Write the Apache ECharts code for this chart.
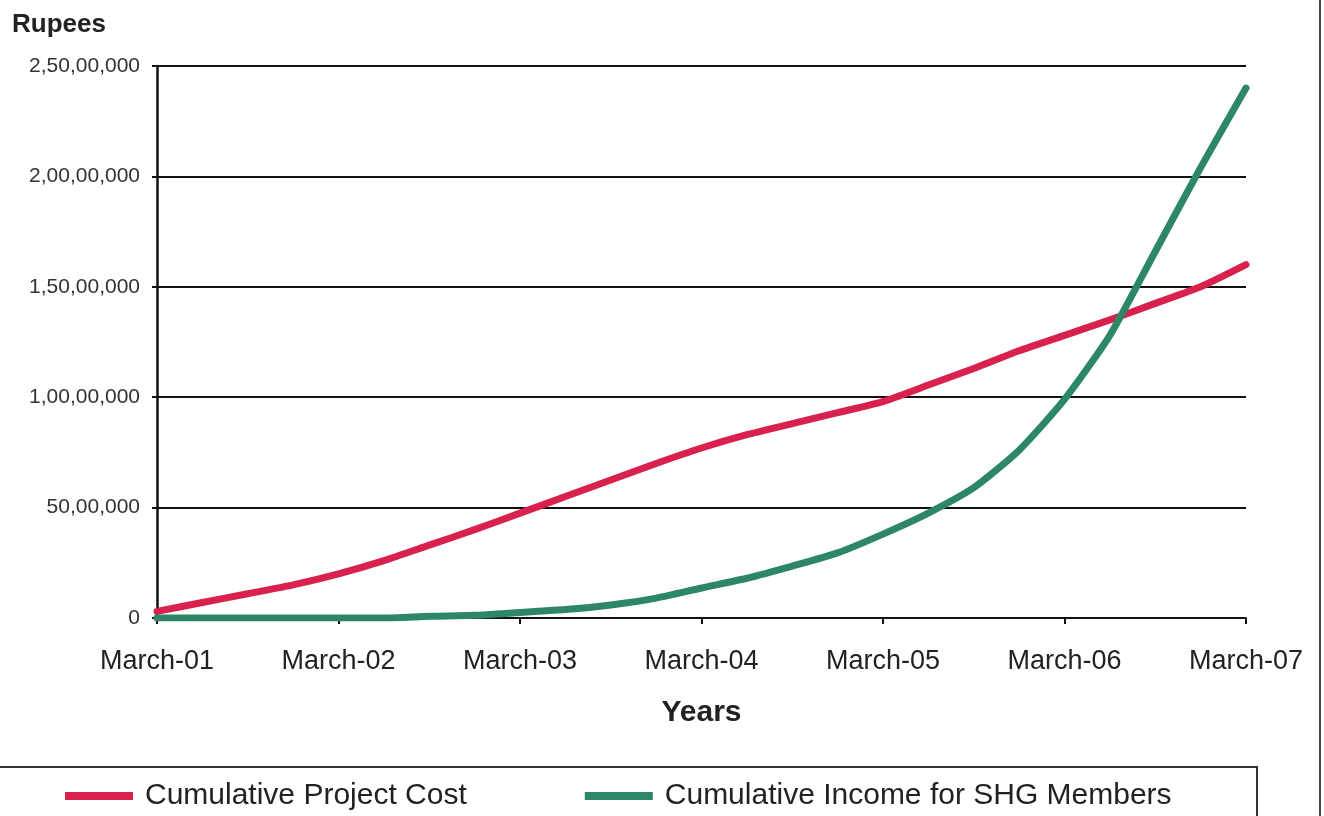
<!DOCTYPE html>
<html>
<head>
<meta charset="utf-8">
<title>Cumulative Project Cost vs Income</title>
<script src="https://cdn.jsdelivr.net/npm/echarts@6/dist/echarts.min.js"></script>
<style>
  html, body { margin: 0; padding: 0; background: #fff; }
  #chart { width: 1324px; height: 816px; }
</style>
</head>
<body>
<div id="chart"></div>
<script>
// quarterly points, March-01 .. March-07
const quarters = [
  'March-01', 'June-01', 'September-01', 'December-01',
  'March-02', 'June-02', 'September-02', 'December-02',
  'March-03', 'June-03', 'September-03', 'December-03',
  'March-04', 'June-04', 'September-04', 'December-04',
  'March-05', 'June-05', 'September-05', 'December-05',
  'March-06', 'June-06', 'September-06', 'December-06',
  'March-07'
]

// rupees
const projectCost = [
  300000, 700000, 1100000, 1500000,
  2000000, 2600000, 3300000, 4000000,
  4750000, 5500000, 6250000, 7000000,
  7700000, 8300000, 8800000, 9300000,
  9800000, 10550000, 11300000, 12100000,
  12800000, 13500000, 14250000, 15000000,
  16000000
]

const shgIncome = [
  0, 0, 0, 0,
  0, 0, 80000, 120000,
  250000, 380000, 590000, 900000,
  1360000, 1800000, 2350000, 2950000,
  3800000, 4750000, 5900000, 7600000,
  9900000, 12800000, 16600000, 20400000,
  24000000
]

const seriesNames = ['Cumulative Project Cost', 'Cumulative Income for SHG Members']
const lineColors = ['#d8214c', '#2d8767']

// 2,50,00,000 style grouping
function indianFormat (v) {
  let s = String(Math.round(v))
  if (s.length <= 3) return s
  let last3 = s.slice(-3)
  let rest = s.slice(0, -3)
  rest = rest.replace(/\B(?=(\d{2})+(?!\d))/g, ',')
  return rest + ',' + last3
}

let myChart = echarts.init(document.getElementById('chart'))

let option = {
  backgroundColor: '#fff',
  animation: false,
  textStyle: { fontFamily: 'Liberation Sans, Arial, sans-serif' },
  grid: { left: 157, right: 78, top: 66, bottom: 198 },
  legend: {
    data: seriesNames,
    left: 65,
    top: 781,
    padding: 0,
    itemWidth: 68,
    itemHeight: 8,
    itemGap: 118,
    icon: 'rect',
    textStyle: { fontSize: 30, color: '#222', padding: [0, 0, 0, 7] }
  },
  xAxis: {
    type: 'category',
    data: quarters,
    boundaryGap: false,
    name: 'Years',
    nameLocation: 'middle',
    nameGap: 80,
    nameTextStyle: { fontSize: 30, fontWeight: 'bold', color: '#222' },
    axisLine: { lineStyle: { color: '#111', width: 2 } },
    axisTick: { show: true, interval: 3, length: 6, lineStyle: { color: '#111', width: 2 } },
    axisLabel: { interval: 3, margin: 30, fontSize: 27, color: '#222' },
    splitLine: { show: false }
  },
  yAxis: {
    type: 'value',
    min: 0,
    max: 25000000,
    interval: 5000000,
    axisLine: { show: true, lineStyle: { color: '#111', width: 2.5 } },
    axisTick: { show: true, length: 5, lineStyle: { color: '#111', width: 2 } },
    axisLabel: { margin: 17, fontSize: 21, color: '#333', formatter: indianFormat },
    splitLine: { show: true, lineStyle: { color: '#111', width: 2 } }
  },
  graphic: [
    {
      type: 'text',
      left: 12,
      top: 12,
      style: { text: 'Rupees', fill: '#222', font: 'bold 26px Liberation Sans, Arial, sans-serif' }
    },
    {
      type: 'rect',
      shape: { x: -2, y: 767, width: 1259, height: 70 },
      style: { fill: 'none', stroke: '#333', lineWidth: 2 }
    },
    {
      type: 'line',
      shape: { x1: 1320, y1: 0, x2: 1320, y2: 816 },
      style: { stroke: '#444', lineWidth: 2 }
    }
  ],
  series: [
    {
      name: seriesNames[0],
      type: 'line',
      data: projectCost,
      symbol: 'none',
      smooth: 0.2,
      color: lineColors[0],
      lineStyle: { width: 7, color: lineColors[0], cap: 'round', join: 'round' }
    },
    {
      name: seriesNames[1],
      type: 'line',
      data: shgIncome,
      symbol: 'none',
      smooth: 0.2,
      color: lineColors[1],
      lineStyle: { width: 7, color: lineColors[1], cap: 'round', join: 'round' }
    }
  ]
}

myChart.setOption(option)
</script>
</body>
</html>
